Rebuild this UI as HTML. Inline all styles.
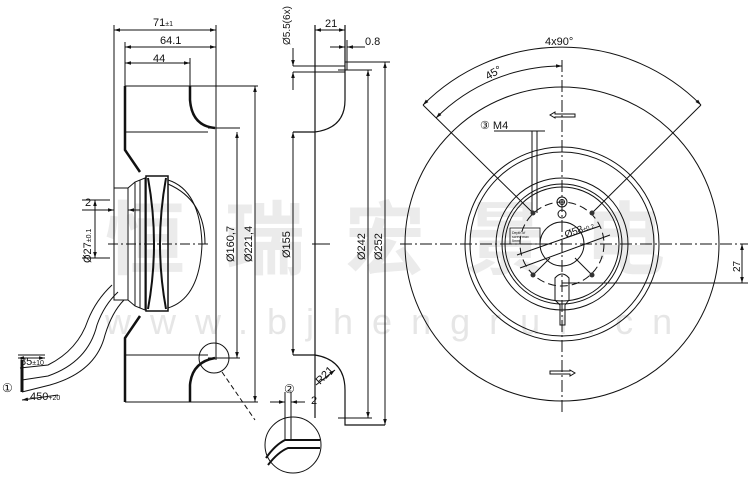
<!DOCTYPE html>
<html><head><meta charset="utf-8"><style>
html,body{margin:0;padding:0;background:#fff;}
svg{display:block}
text{font-family:"Liberation Sans",Arial,sans-serif;fill:#111}
.wm{font-family:"Liberation Sans","Noto Sans CJK SC",sans-serif;fill:#ebebeb;font-weight:bold}
</style></head><body>
<svg width="750" height="482" viewBox="0 0 750 482" xmlns="http://www.w3.org/2000/svg">
<defs>
<marker id="a" viewBox="0 0 10 10" refX="10" refY="5" markerWidth="6" markerHeight="6" orient="auto-start-reverse"><path d="M0,2 L10,5 L0,8 z" fill="#111"/></marker>
</defs>
<!-- watermark -->
<text class="wm" x="105" y="268" font-size="80" letter-spacing="40">恒瑞宏景电</text>
<text x="105" y="334" font-size="36" style="fill:#e6e6e6" letter-spacing="19">www.bjhengrui.cn</text>

<g stroke="#111" fill="none" stroke-width="1">
<!-- LEFT VIEW -->
<line x1="114" y1="25" x2="114" y2="190"/>
<line x1="216" y1="25" x2="216" y2="360"/>
<line x1="114" y1="30" x2="216" y2="30" marker-start="url(#a)" marker-end="url(#a)"/>
<line x1="125" y1="42" x2="125" y2="86"/>
<line x1="125" y1="47" x2="216" y2="47" marker-start="url(#a)" marker-end="url(#a)"/>
<line x1="190" y1="58" x2="190" y2="86"/>
<line x1="125" y1="63" x2="190" y2="63" marker-start="url(#a)" marker-end="url(#a)"/>
<path d="M125,86 L125,150 L140,172 M140,316 L125,338 L125,402" stroke-width="2.5"/>
<line x1="125" y1="86" x2="258" y2="86"/>
<line x1="125" y1="402" x2="258" y2="402"/>
<line x1="125" y1="132" x2="208" y2="132"/>
<line x1="125" y1="355" x2="208" y2="355"/>
<path d="M190,86 L190,100 Q192,126 215,128" stroke-width="2.5"/>
<path d="M190,402 L190,385 Q192,362 215,358" stroke-width="2.5"/>
<line x1="208" y1="128" x2="240" y2="128"/>
<line x1="208" y1="358" x2="240" y2="358"/>
<line x1="237" y1="132" x2="237" y2="358" marker-start="url(#a)" marker-end="url(#a)"/>
<line x1="255" y1="86" x2="255" y2="402" marker-start="url(#a)" marker-end="url(#a)"/>
<!-- motor -->
<path d="M114,188 L128,188 L135,182 L145,178 L145,310 L135,306 L128,300 L114,300 Z"/>
<line x1="128" y1="188" x2="128" y2="300"/>
<line x1="135" y1="182" x2="135" y2="306"/>
<line x1="140" y1="180" x2="140" y2="308"/>
<path d="M146,176 L168,176 L168,311 L146,311 Z" stroke-width="1.5"/>
<path d="M148,178 Q160,244 148,309 M166,178 Q154,244 166,309" stroke-width="2"/>
<path d="M168,180 Q200,190 202,244 Q200,298 168,308"/>
<path d="M168,184 Q205,200 205,244"/>
<line x1="108" y1="244" x2="210" y2="244" stroke-dasharray="10,3,2,3"/>
<line x1="82" y1="200" x2="110" y2="200"/><line x1="82" y1="258" x2="110" y2="258"/>
<line x1="95" y1="200" x2="95" y2="258" marker-start="url(#a)" marker-end="url(#a)"/>
<line x1="82" y1="210" x2="114" y2="210" marker-end="url(#a)"/>
<line x1="140" y1="210" x2="128" y2="210" marker-end="url(#a)"/>
<!-- cable -->
<path d="M112,285 Q96,300 88,320 Q78,350 48,365 L20,368"/>
<path d="M118,292 Q104,305 97,325 Q88,362 48,376 L22,380"/>
<path d="M124,300 Q112,312 105,335 Q96,372 50,385 L22,392"/>
<path d="M22,360 L22,392" stroke-width="3"/>
<line x1="18" y1="355" x2="45" y2="355"/><line x1="18" y1="358" x2="45" y2="358" marker-start="url(#a)" marker-end="url(#a)"/>
<line x1="22" y1="400" x2="58" y2="395" marker-start="url(#a)"/>
<!-- detail circles -->
<circle cx="214" cy="358" r="15"/>
<line x1="222" y1="372" x2="255" y2="420" stroke-dasharray="5,3"/>
<circle cx="293" cy="445" r="28"/>
<path d="M266,458 Q275,445 285,440 L320,440 M268,465 Q278,452 288,448 L320,448" stroke-width="2"/>
<line x1="285" y1="392" x2="285" y2="440"/><line x1="291" y1="392" x2="291" y2="440"/>
<line x1="270" y1="402" x2="285" y2="402" marker-end="url(#a)"/>
<line x1="305" y1="402" x2="291" y2="402" marker-end="url(#a)"/>

<!-- MIDDLE VIEW -->
<path d="M315,25 L315,418 M345,25 L345,100 Q345,128 315,132 L293,132 M293,355 L315,355 Q345,360 345,390 L345,425 L385,425" stroke-width="1.2"/>
<line x1="315" y1="30" x2="345" y2="30" marker-start="url(#a)" marker-end="url(#a)"/>
<line x1="330" y1="47" x2="345" y2="47" marker-end="url(#a)"/>
<line x1="365" y1="47" x2="347" y2="47" marker-end="url(#a)"/>
<line x1="347" y1="40" x2="347" y2="70"/>
<line x1="345" y1="62" x2="390" y2="62"/>
<line x1="338" y1="70" x2="372" y2="70"/>
<line x1="293" y1="66" x2="345" y2="66"/><line x1="293" y1="72" x2="345" y2="72"/>
<line x1="293" y1="48" x2="293" y2="66" marker-end="url(#a)"/>
<line x1="293" y1="90" x2="293" y2="72" marker-end="url(#a)"/>
<line x1="293" y1="132" x2="293" y2="355" marker-start="url(#a)" marker-end="url(#a)"/>
<line x1="368" y1="70" x2="368" y2="418" marker-start="url(#a)" marker-end="url(#a)"/>
<line x1="338" y1="418" x2="372" y2="418"/>
<line x1="385" y1="62" x2="385" y2="425" marker-start="url(#a)" marker-end="url(#a)"/>
<line x1="312" y1="244" x2="330" y2="244"/>
<line x1="316" y1="385" x2="335" y2="370" marker-end="url(#a)"/>

<!-- RIGHT VIEW -->
<circle cx="562" cy="244" r="157"/>
<circle cx="562" cy="244" r="97"/>
<circle cx="562" cy="244" r="92"/>
<circle cx="562" cy="244" r="66"/>
<circle cx="562" cy="244" r="60"/>
<circle cx="562" cy="244" r="57"/>
<circle cx="562" cy="244" r="42" stroke-dasharray="8,4"/>
<circle cx="562" cy="244" r="22"/>
<path d="M423,105 A196,196 0 0 1 701,105" marker-start="url(#a)" marker-end="url(#a)"/>
<path d="M436,118 A178,178 0 0 1 562,66" marker-start="url(#a)" marker-end="url(#a)"/>
<line x1="423" y1="105" x2="533" y2="213"/>
<line x1="701" y1="105" x2="592" y2="213"/>
<line x1="533" y1="275" x2="550" y2="258"/><line x1="592" y1="275" x2="575" y2="258"/>
<line x1="562" y1="60" x2="562" y2="415" stroke-dasharray="12,3,2,3"/>
<line x1="400" y1="244" x2="748" y2="244" stroke-dasharray="12,3,2,3"/>
<line x1="562" y1="283" x2="748" y2="283"/>
<line x1="742" y1="244" x2="742" y2="283" marker-start="url(#a)" marker-end="url(#a)"/>
<path d="M517,255 L600,226 M520,268 L610,235" />
<line x1="494" y1="131" x2="545" y2="131"/>
<line x1="532" y1="131" x2="532" y2="213"/><line x1="537" y1="131" x2="537" y2="213"/>
<rect x="510" y="228" width="30" height="16" stroke-width="0.8"/>
<path d="M555,118 L550,115 L555,112 L555,114 L575,114 L575,117 L555,117 Z"/>
<path d="M570,370 L575,373 L570,376 L570,374 L550,374 L550,371 L570,371 Z"/>
<path d="M555,290 L555,278 Q562,270 569,278 L569,300 L565,305 L565,325 L560,325 L560,305 L555,300 Z"/>
<circle cx="562" cy="202" r="5"/><circle cx="562" cy="202" r="2.5"/><circle cx="562" cy="214" r="4"/>
</g>
<g fill="#333">
<circle cx="533" cy="213" r="2.5"/><circle cx="592" cy="213" r="2.5"/><circle cx="533" cy="275" r="2.5"/><circle cx="592" cy="275" r="2.5"/>
</g>
<g font-size="11">
<text x="153" y="26">71<tspan font-size="7">±1</tspan></text>
<text x="160" y="44">64.1</text>
<text x="153" y="62">44</text>
<text x="85" y="206">2</text>
<text x="20" y="365">85<tspan font-size="7">±10</tspan></text>
<text x="30" y="400">450<tspan font-size="7">+20</tspan></text>
<text x="2" y="392" font-size="12">①</text>
<text x="325" y="27">21</text>
<text x="365" y="45">0.8</text>
<text x="284" y="393" font-size="12">②</text>
<text x="311" y="404">2</text>
<text x="545" y="45">4x90°</text>
<text x="480" y="129">③ M4</text>
<text transform="translate(91,263) rotate(-90)">Ø27<tspan font-size="7">±0.1</tspan></text>
<text transform="translate(234,262) rotate(-90)">Ø160,7</text>
<text transform="translate(252,262) rotate(-90)">Ø221,4</text>
<text transform="translate(290,45) rotate(-90)" font-size="10">Ø5.5(6x)</text>
<text transform="translate(290,258) rotate(-90)">Ø155</text>
<text transform="translate(365,260) rotate(-90)">Ø242</text>
<text transform="translate(382,260) rotate(-90)">Ø252</text>
<text transform="translate(320,385) rotate(-45)">R21</text>
<text transform="translate(488,80) rotate(-30)">45°</text>
<text transform="translate(740,272) rotate(-90)" font-size="10">27</text>
<text transform="translate(566,238) rotate(-20)" font-size="10">Ø58<tspan font-size="6">±0.2</tspan></text>
<text x="512" y="234" font-size="3.5">Depth of</text>
<text x="512" y="238" font-size="3.5">screw max</text>
<text x="512" y="242" font-size="3.5">5mm</text>
</g>
</svg>
</body></html>
